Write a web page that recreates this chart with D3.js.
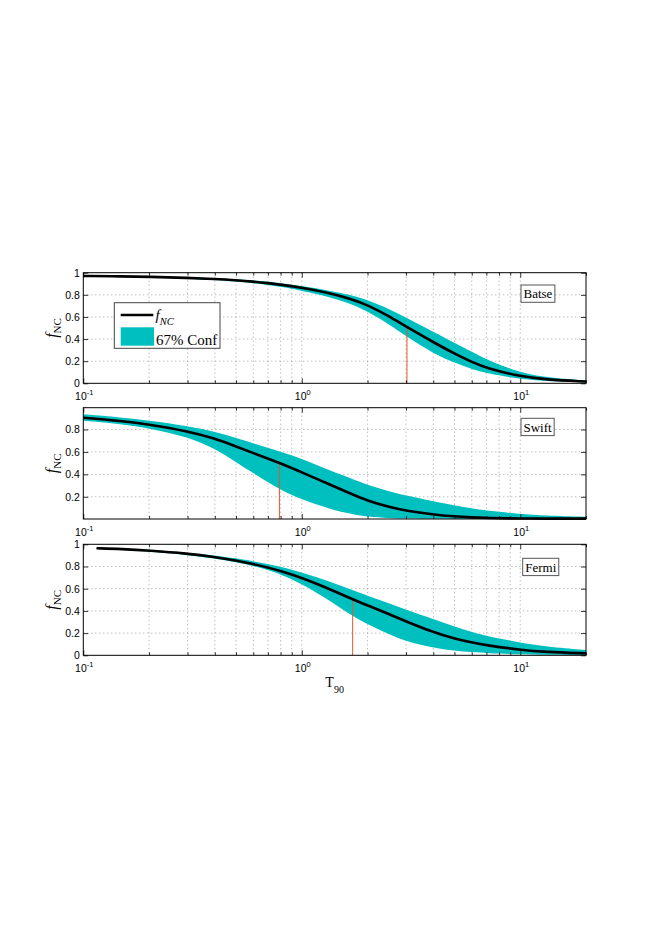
<!DOCTYPE html>
<html><head><meta charset="utf-8">
<script src="https://cdn.jsdelivr.net/npm/d3@7"></script>
<style>body{margin:0;background:#fff}svg{display:block}</style>
</head><body><svg id="c" width="654" height="925"></svg>
<script>
// ---- data ----
const tGrid = [0.1,0.15,0.2,0.3,0.4,0.5,0.6,0.7,0.8,1,1.35,1.7,2,2.5,3,4,5,6,7,10,13,20];
const fermiT = [0.115,0.15,0.2,0.3,0.4,0.5,0.6,0.7,0.8,1,1.35,1.7,2,2.5,3,4,5,6,7,10,13,20];

const batseF  = [0.970,0.967,0.963,0.953,0.943,0.932,0.920,0.906,0.892,0.866,0.815,0.760,0.708,0.608,0.512,0.372,0.268,0.193,0.138,0.062,0.034,0.016];
const batseHi = [0.972,0.970,0.967,0.958,0.950,0.941,0.930,0.918,0.905,0.880,0.838,0.795,0.753,0.675,0.593,0.466,0.365,0.285,0.215,0.095,0.055,0.022];
const batseLo = [0.968,0.964,0.959,0.946,0.934,0.920,0.906,0.890,0.873,0.836,0.780,0.715,0.650,0.535,0.425,0.270,0.185,0.128,0.090,0.038,0.020,0.008];

const swiftF  = [0.905,0.875,0.845,0.785,0.720,0.648,0.590,0.541,0.498,0.418,0.308,0.222,0.165,0.110,0.075,0.042,0.025,0.016,0.011,0.006,0.005,0.005];
const swiftHi = [0.935,0.907,0.880,0.832,0.780,0.725,0.677,0.636,0.601,0.540,0.432,0.360,0.305,0.250,0.210,0.160,0.122,0.096,0.077,0.046,0.033,0.022];
const swiftLo = [0.878,0.848,0.812,0.735,0.630,0.510,0.410,0.330,0.262,0.175,0.090,0.045,0.022,0.010,0.005,0.003,0.003,0.003,0.003,0.003,0.003,0.003];

const fermiF  = [0.964,0.958,0.944,0.917,0.886,0.854,0.822,0.791,0.760,0.700,0.595,0.507,0.450,0.372,0.306,0.207,0.150,0.115,0.090,0.049,0.030,0.017];
const fermiHi = [0.966,0.961,0.950,0.925,0.900,0.873,0.848,0.822,0.797,0.748,0.664,0.588,0.538,0.470,0.410,0.328,0.258,0.210,0.174,0.114,0.080,0.048];
const fermiLo = [0.958,0.951,0.935,0.905,0.872,0.838,0.805,0.768,0.728,0.645,0.490,0.355,0.280,0.190,0.125,0.068,0.042,0.028,0.019,0.009,0.005,0.003];

const halfT = [3.03, 0.79, 1.71];
const halfF = 0.5;

const panelNames = ["Batse","Swift","Fermi"];
const xMajor = [0.1, 1, 10];
const xMajorLabels = [["10","-1"],["10","0"],["10","1"]];
const xMinor = [0.2,0.3,0.4,0.5,0.6,0.7,0.8,0.9,2,3,4,5,6,7,8,9,20];
const yTicksFull = [0,0.2,0.4,0.6,0.8,1];
const yTicksSwift = [0.2,0.4,0.6,0.8];
const legendLabels = ["f","NC","67% Conf"];
const xLabel = ["T","90"];

// ---- layout ----
const svg = d3.select("#c");
const L = 83.3, R = 586;
const CYAN = "rgb(0,191,191)", RED = "#e0582c";
const x = d3.scaleLog().domain([0.1, 20]).range([L, R]);

const panels = [
  {T: tGrid, F: batseF, hi: batseHi, lo: batseLo, top: 272.7, bottom: 383.3, yDom: [0, 1], yTicks: yTicksFull, box: [521, 285]},
  {T: tGrid, F: swiftF, hi: swiftHi, lo: swiftLo, top: 407.7, bottom: 519.0, yDom: [0.002, 0.994], yTicks: yTicksSwift, box: [521, 418.3]},
  {T: fermiT, F: fermiF, hi: fermiHi, lo: fermiLo, top: 544.3, bottom: 655.3, yDom: [0, 1], yTicks: yTicksFull, box: [522.7, 558.3]}
];

const tickFont = "'Liberation Sans', Arial, Helvetica, sans-serif";
const serif = "'Liberation Serif', 'Times New Roman', serif";

panels.forEach((p, i) => {
  const y = d3.scaleLinear().domain(p.yDom).range([p.bottom, p.top]);
  const g = svg.append("g");

  // grid
  const gridX = xMinor.concat(xMajor).filter(v => v > 0.1 && v < 20);
  g.selectAll(".gx").data(gridX).join("line")
    .attr("x1", d => x(d)).attr("x2", d => x(d))
    .attr("y1", p.top).attr("y2", p.bottom)
    .attr("stroke", "#8a8a8a").attr("stroke-width", 0.8).attr("stroke-dasharray", "1,3");
  g.selectAll(".gy").data(p.yTicks.filter(v => v > p.yDom[0] && v < p.yDom[1])).join("line")
    .attr("x1", L).attr("x2", R)
    .attr("y1", d => y(d)).attr("y2", d => y(d))
    .attr("stroke", "#8a8a8a").attr("stroke-width", 0.8).attr("stroke-dasharray", "1,3");

  const rows = p.T.map((t, k) => ({t, f: p.F[k], hi: p.hi[k], lo: p.lo[k]}));

  // band
  g.append("path").datum(rows)
    .attr("d", d3.area().x(d => x(d.t)).y0(d => y(d.lo)).y1(d => y(d.hi)).curve(d3.curveBasis))
    .attr("fill", CYAN).attr("stroke", "none");

  // half marker
  g.append("line")
    .attr("x1", x(halfT[i])).attr("x2", x(halfT[i]))
    .attr("y1", p.bottom).attr("y2", y(halfF))
    .attr("stroke", RED).attr("stroke-width", 1);

  // curve
  g.append("path").datum(rows)
    .attr("d", d3.line().x(d => x(d.t)).y(d => y(d.f)).curve(d3.curveBasis))
    .attr("fill", "none").attr("stroke", "#000").attr("stroke-width", 2.6);

  // axes ticks (inside)
  const mk = (axis, tr) => g.append("g").attr("transform", tr).call(axis)
    .call(a => a.select(".domain").remove())
    .call(a => a.selectAll("line").attr("stroke", "#000").attr("stroke-width", 0.8));
  mk(d3.axisBottom(x).tickValues(xMajor).tickSizeInner(-5).tickSizeOuter(0).tickFormat(""), `translate(0,${p.bottom})`);
  mk(d3.axisBottom(x).tickValues(xMinor).tickSizeInner(-3).tickSizeOuter(0).tickFormat(""), `translate(0,${p.bottom})`);
  mk(d3.axisTop(x).tickValues(xMajor).tickSizeInner(-5).tickSizeOuter(0).tickFormat(""), `translate(0,${p.top})`);
  mk(d3.axisTop(x).tickValues(xMinor).tickSizeInner(-3).tickSizeOuter(0).tickFormat(""), `translate(0,${p.top})`);
  mk(d3.axisLeft(y).tickValues(p.yTicks).tickSizeInner(-5).tickSizeOuter(0).tickFormat(""), `translate(${L},0)`);
  mk(d3.axisRight(y).tickValues(p.yTicks).tickSizeInner(-5).tickSizeOuter(0).tickFormat(""), `translate(${R},0)`);

  // box
  g.append("rect").attr("x", L).attr("y", p.top).attr("width", R - L).attr("height", p.bottom - p.top)
    .attr("fill", "none").attr("stroke", "#000").attr("stroke-width", 1);

  // y tick labels
  g.selectAll(".yl").data(p.yTicks).join("text")
    .attr("x", L - 3.5).attr("y", d => y(d) + 3.8)
    .attr("text-anchor", "end").attr("font-family", tickFont).attr("font-size", 10.5)
    .text(d => d3.format("~g")(d));

  // x tick labels
  xMajor.forEach((v, k) => {
    const t = g.append("text").attr("x", x(v) + 1).attr("y", p.bottom + 17)
      .attr("text-anchor", "middle").attr("font-family", tickFont).attr("font-size", 10.5);
    t.append("tspan").text(xMajorLabels[k][0]);
    t.append("tspan").attr("dy", -5.5).attr("font-size", 7.5).text(xMajorLabels[k][1]);
  });

  // y label
  const midY = (p.top + p.bottom) / 2;
  const yl = g.append("text").attr("transform", `translate(57,${midY}) rotate(-90)`)
    .attr("text-anchor", "middle").attr("font-family", serif);
  yl.append("tspan").attr("font-style", "italic").attr("font-size", 16).text(legendLabels[0]);
  yl.append("tspan").attr("font-size", 11).attr("dy", 4).text(legendLabels[1]);

  // panel name box
  const nb = g.append("rect")
    .attr("x", p.box[0]).attr("y", p.box[1]).attr("height", 17.3)
    .attr("fill", "#fff").attr("stroke", "#555").attr("stroke-width", 1);
  const nt = g.append("text").attr("x", p.box[0] + 2.5).attr("y", p.box[1] + 13.3)
    .attr("font-family", serif).attr("font-size", 13).text(panelNames[i]);
  nb.attr("width", nt.node().getComputedTextLength() + 5);
});

// legend (top panel)
const lg = svg.append("g");
lg.append("rect").attr("x", 114.3).attr("y", 302.7).attr("width", 105.7).attr("height", 45.6)
  .attr("fill", "#fff").attr("stroke", "#444").attr("stroke-width", 1);
lg.append("line").attr("x1", 120.7).attr("x2", 153.3).attr("y1", 315).attr("y2", 315)
  .attr("stroke", "#000").attr("stroke-width", 2.6);
lg.append("rect").attr("x", 120.7).attr("y", 327.3).attr("width", 33.3).attr("height", 18.4).attr("fill", CYAN);
const lt = lg.append("text").attr("x", 155.5).attr("y", 319.5).attr("font-family", serif).attr("font-style", "italic");
lt.append("tspan").attr("font-size", 15).text(legendLabels[0]);
lt.append("tspan").attr("font-size", 10.5).attr("dy", 5).text(legendLabels[1]);
lg.append("text").attr("x", 156).attr("y", 345).attr("font-family", serif).attr("font-size", 15).text(legendLabels[2]);

// x label
const xl = svg.append("text").attr("x", (L + R) / 2).attr("y", 687).attr("text-anchor", "middle").attr("font-family", serif);
xl.append("tspan").attr("font-size", 14).text(xLabel[0]);
xl.append("tspan").attr("font-size", 10).attr("dy", 6).text(xLabel[1]);
</script>
</body></html>
